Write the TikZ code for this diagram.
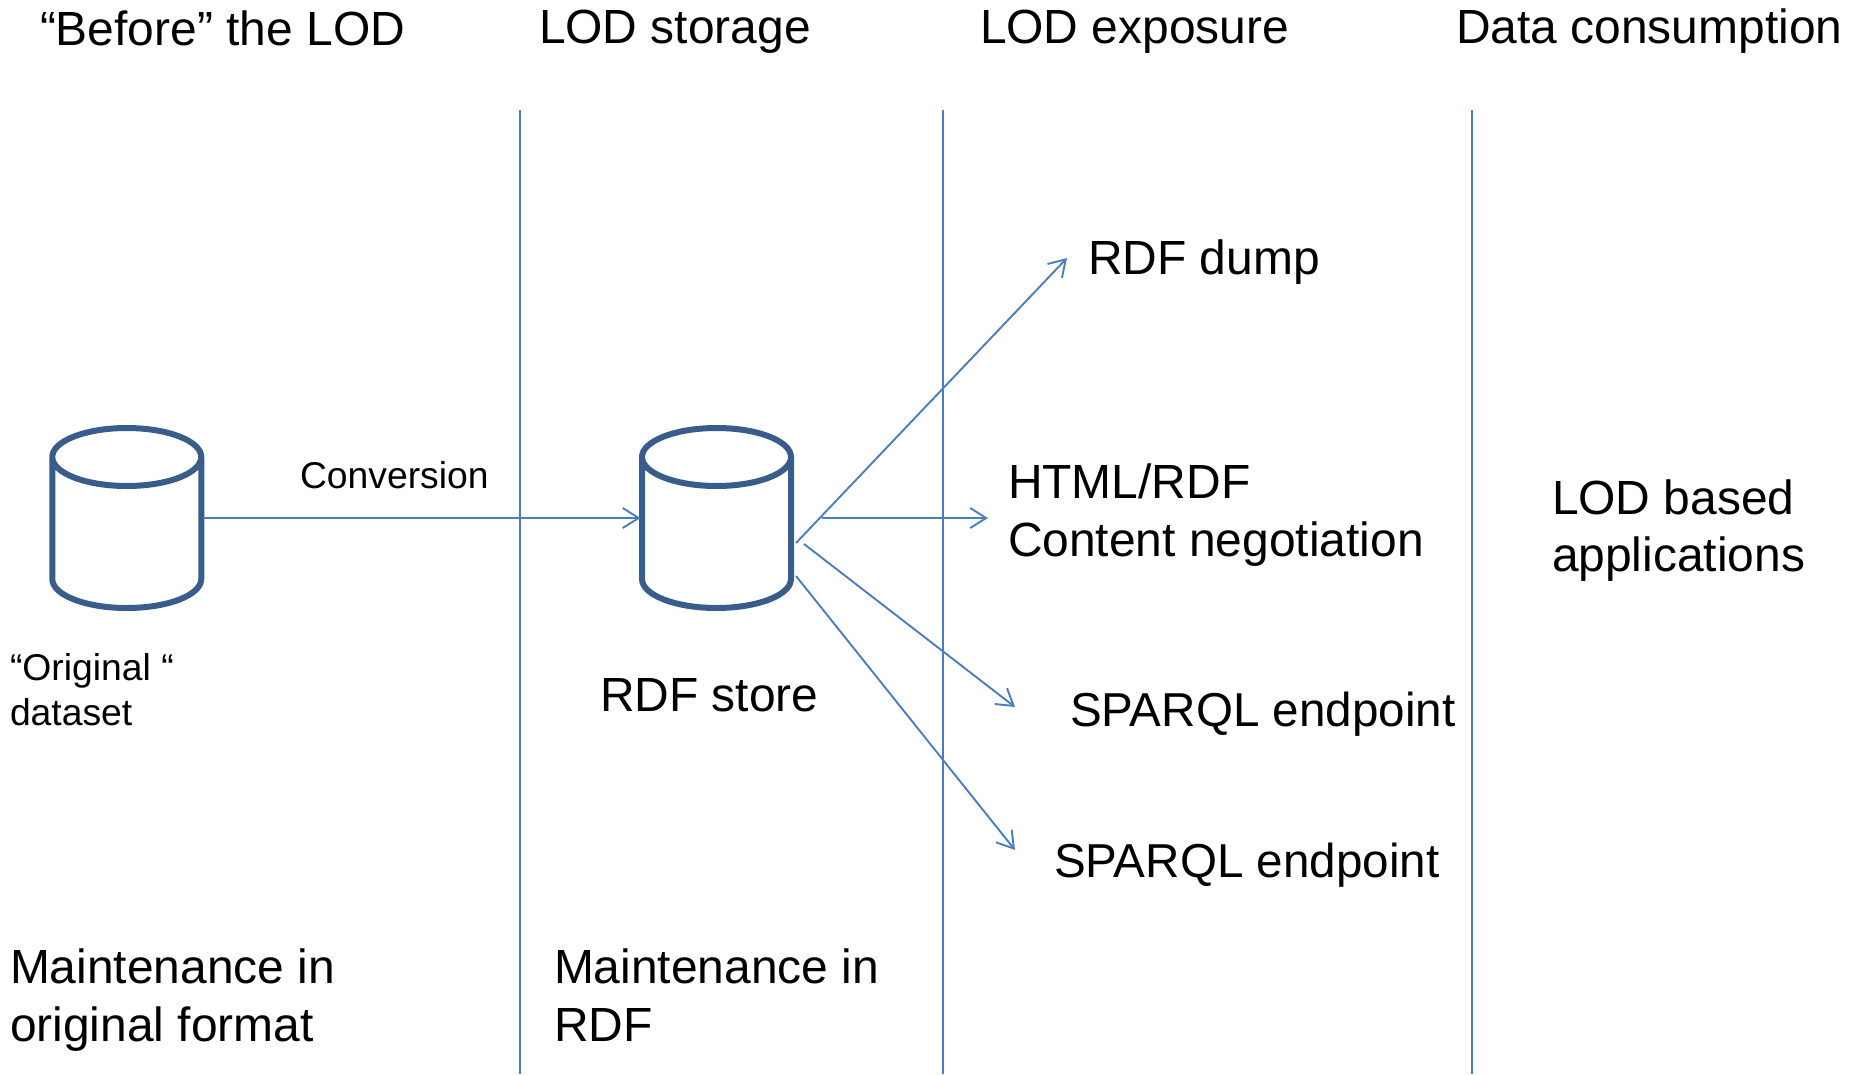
\documentclass[tikz,border=0pt]{standalone}
\usepackage{fontspec}
\setmainfont{Liberation Sans}
\usetikzlibrary{arrows.meta}
\definecolor{linkblue}{HTML}{4A7EBB}
\definecolor{cylblue}{HTML}{385D8A}
\tikzset{
  lane/.style={draw=linkblue,line width=2.4pt},
  link/.style={draw=linkblue,line width=1.9pt,-{Straight Barb[length=16pt,width=20pt,line width=1.9pt]}},
  cylbox/.style={rectangle,draw=none,minimum width=152pt,minimum height=186pt,inner sep=0pt,outer sep=0pt},
  cylline/.style={draw=cylblue,line width=6pt,line join=round},
  big/.style={anchor=base west,inner sep=0pt,outer sep=0pt,font=\fontsize{47.95pt}{56pt}\selectfont},
  bigs/.style={anchor=base west,inner sep=0pt,outer sep=0pt,font=\fontsize{47.6pt}{56pt}\selectfont},
  small/.style={anchor=base west,inner sep=0pt,outer sep=0pt,font=\fontsize{37.3pt}{44pt}\selectfont},
}
\newcommand{\dbdrum}[1]{%
  \draw[cylline,shift={(#1.center)}]
    (-74.5pt,61pt) arc[start angle=180,end angle=360,x radius=74.5pt,y radius=29pt]
    arc[start angle=0,end angle=180,x radius=74.5pt,y radius=29pt]
    -- (-74.5pt,-61pt) arc[start angle=180,end angle=360,x radius=74.5pt,y radius=29pt]
    -- (74.5pt,61pt);
}
\begin{document}
\begin{tikzpicture}[x=1pt,y=-1pt]
\useasboundingbox (0,0) rectangle (1850,1074);
% lanes
\coordinate (l1t) at (520,110); \coordinate (l1b) at (520,1074);
\coordinate (l2t) at (943,110); \coordinate (l2b) at (943,1074);
\coordinate (l3t) at (1472,110); \coordinate (l3b) at (1472,1074);
\draw[lane] (l1t) -- (l1b);
\draw[lane] (l2t) -- (l2b);
\draw[lane] (l3t) -- (l3b);
% headers
\node[big] (h1) at (40,45) {“Before” the LOD};
\node[big] (h2) at (539,43) {LOD storage};
\node[big] (h3) at (980,43) {LOD exposure};
\node[big] (h4) at (1456,43) {Data consumption};
% cylinders
\node[cylbox] (orig) at (126.75,518) {};
\node[cylbox] (store) at (716.5,518) {};
\dbdrum{orig}
\dbdrum{store}
% connector ends
\coordinate (a1s) at (796,543); \coordinate (a1e) at (1067,258);
\coordinate (a2s) at (822,518); \coordinate (a2e) at (988,518);
\coordinate (a3s) at (804,544); \coordinate (a3e) at (1015,707);
\coordinate (a4s) at (796,576); \coordinate (a4e) at (1015,850);
\draw[link] (orig.east) -- (store.west);
\draw[link] (a1s) -- (a1e);
\draw[link] (a2s) -- (a2e);
\draw[link] (a3s) -- (a3e);
\draw[link] (a4s) -- (a4e);
% labels
\node[small] (conv) at (300,488) {Conversion};
\node[small] (o1) at (10,680) {“Original “};
\node[small] (o2) at (10,725) {dataset};
\node[big] (rs) at (600,711) {RDF store};
\node[big] (dump) at (1088,274) {RDF dump};
\node[big] (html) at (1008,498) {HTML/RDF};
\node[big] (cn) at (1008,556) {Content negotiation};
\node[bigs] (sp1) at (1070,726) {SPARQL endpoint};
\node[bigs] (sp2) at (1054,877) {SPARQL endpoint};
\node[big] (lod1) at (1552,514) {LOD based};
\node[big] (lod2) at (1552,571) {applications};
\node[big] (m1) at (10,983) {Maintenance in};
\node[big] (m2) at (10,1041) {original format};
\node[big] (m3) at (554,983) {Maintenance in};
\node[big] (m4) at (554,1041) {RDF};
\end{tikzpicture}
\end{document}
